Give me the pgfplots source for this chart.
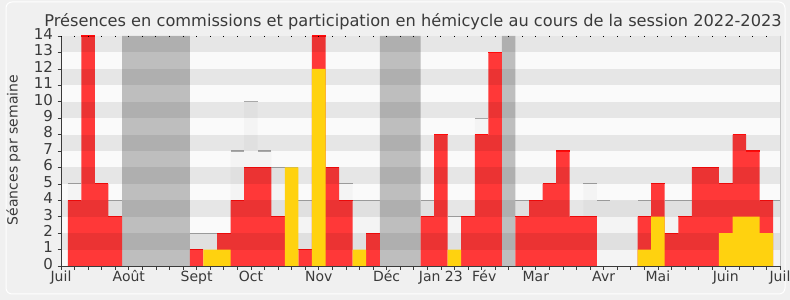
\documentclass[border=0pt]{standalone}
\usepackage{pgfplots}
\pgfplotsset{compat=1.18}
\usepackage{fontspec}
\setmainfont{DejaVu Sans}
\definecolor{bgpage}{HTML}{F0F0F0}
\definecolor{bandlight}{HTML}{FAFAFA}
\definecolor{redbar}{HTML}{FF3838}
\definecolor{redline}{HTML}{FF0A0A}
\definecolor{yellowbar}{HTML}{FFD20F}
\definecolor{vacgray}{HTML}{BEBEBE}
\definecolor{totbar}{HTML}{F4F4F4}
\definecolor{totline}{HTML}{A8A8A8}
\definecolor{txt}{HTML}{3A3A3A}
\begin{document}
\begin{tikzpicture}
\useasboundingbox (0,0) rectangle (790bp,300bp);
\fill[bgpage] (0,0) rectangle (790bp,300bp);
\draw[white, line width=1bp, rounded corners=6bp] (6bp,6bp) rectangle (785bp,298bp);
\begin{axis}[
  at={(61bp,34bp)}, anchor=south west,
  scale only axis, width=719bp, height=230bp,
  xmin=0, xmax=53, ymin=0, ymax=14,
  enlargelimits=false,
  axis background/.style={fill=bandlight},
  axis x line*=bottom, axis y line*=left,
  axis line style={-, draw=txt, line width=0.8bp},
  axis on top,
  xtick={0,1,...,53}, xticklabels={},
  ytick={0,1,...,14},
  tick align=outside,
  major tick length=3.5bp,
  tick style={draw=txt, line width=0.7bp},
  extra x ticks={0,5,10,14,19,24,28,31.2,35,40,44,49,53},
  extra x tick labels={Juil,Août,Sept,Oct,Nov,Déc,Jan 23,Fév,Mar,Avr,Mai,Juin,Juil},
  extra x tick style={major tick length=0bp},
  typeset ticklabels with strut,
  ticklabel style={text=txt},
  xticklabel style={yshift=-1bp, font=\fontsize{14bp}{16bp}\selectfont},
  yticklabel style={xshift=-1bp, font=\fontsize{15bp}{17bp}\selectfont},
  /pgf/number format/assume math mode=true,
]
% total sessions per week (light bars)
\addplot[ybar, bar width=1, bar shift=0pt, fill=totbar, draw=none] coordinates {
(1,5)(4,4)(10,2)(11,2)(13,7)(14,10)(15,7)(16,6)(17,6)(18,4)(21,5)(22,4)(23,4)
(27,4)(29,3)(31,9)(34,4)(39,5)(40,4)(41,4)(42,4)(43,4)(45,4)(46,4)(52,4)(53,4)};
\addplot[draw=none, mark=none, error bars/.cd, x dir=both, x fixed=0.5, error mark=none,
  error bar style={draw=totline, line width=1.2bp}] coordinates {
(1,5)(4,4)(10,2)(11,2)(13,7)(14,10)(15,7)(16,6)(17,6)(18,4)(21,5)(22,4)(23,4)
(27,4)(29,3)(31,9)(34,4)(39,5)(40,4)(43,4)(45,4)(46,4)(52,4)(53,4)};
% vacations
\addplot[ybar, bar width=1, bar shift=0pt, fill=vacgray, draw=none] coordinates {
(5,14)(6,14)(7,14)(8,14)(9,14)(24,14)(25,14)(26,14)(33,14)};
% commission presences
\addplot[ybar, bar width=1, bar shift=0pt, fill=redbar, draw=none] coordinates {
(1,4)(2,14)(3,5)(4,3)(10,1)(12,2)(13,4)(14,6)(15,6)(16,3)(18,1)(19,14)(20,6)(21,4)
(23,2)(27,3)(28,8)(30,3)(31,8)(32,13)(34,3)(35,4)(36,5)(37,7)(38,3)(39,3)(43,3)
(44,5)(45,2)(46,3)(47,6)(48,6)(49,5)(50,8)(51,7)(52,4)};
\addplot[draw=none, mark=none, error bars/.cd, x dir=both, x fixed=0.5, error mark=none,
  error bar style={draw=redline, line width=1.2bp}] coordinates {
(1,4)(2,14)(3,5)(4,3)(10,1)(12,2)(13,4)(14,6)(15,6)(16,3)(18,1)(19,14)(20,6)(21,4)
(23,2)(27,3)(28,8)(30,3)(31,8)(32,13)(34,3)(35,4)(36,5)(37,7)(38,3)(39,3)(43,3)
(44,5)(45,2)(46,3)(47,6)(48,6)(49,5)(50,8)(51,7)(52,4)};
% grey bands
\fill[black, fill opacity=0.08] (axis cs:0,1) rectangle (axis cs:53,2);
\fill[black, fill opacity=0.08] (axis cs:0,3) rectangle (axis cs:53,4);
\fill[black, fill opacity=0.08] (axis cs:0,5) rectangle (axis cs:53,6);
\fill[black, fill opacity=0.08] (axis cs:0,7) rectangle (axis cs:53,8);
\fill[black, fill opacity=0.08] (axis cs:0,9) rectangle (axis cs:53,10);
\fill[black, fill opacity=0.08] (axis cs:0,11) rectangle (axis cs:53,12);
\fill[black, fill opacity=0.08] (axis cs:0,13) rectangle (axis cs:53,14);
% hemicycle participations
\addplot[ybar, bar width=1, bar shift=0pt, fill=yellowbar, draw=none] coordinates {
(11,1)(12,1)(17,6)(19,12)(22,1)(29,1)(43,1)(44,3)(49,2)(50,3)(51,3)(52,2)};
\end{axis}
\begin{axis}[
  at={(61bp,34bp)}, anchor=south west,
  scale only axis, width=719bp, height=230bp,
  xmin=0, xmax=53, ymin=0, ymax=14,
  hide y axis,
  axis x line*=top,
  axis line style={draw=none},
  xtick={0,1,...,53}, xticklabels={},
  tick align=inside, major tick length=1.5bp,
  tick style={draw=black, line width=1bp},
]
\end{axis}
\draw[color=black!22, line width=1bp] (780bp,34bp) -- (780bp,264bp);
\node[anchor=base, text=txt, font=\fontsize{16.2bp}{19bp}\selectfont] at (413bp,273bp)
  {Présences en commissions et participation en hémicycle au cours de la session 2022-2023};
\node[rotate=90, anchor=base, text=txt, font=\fontsize{14bp}{16bp}\selectfont] at (17.5bp,150bp)
  {Séances par semaine};
\end{tikzpicture}
\end{document}
